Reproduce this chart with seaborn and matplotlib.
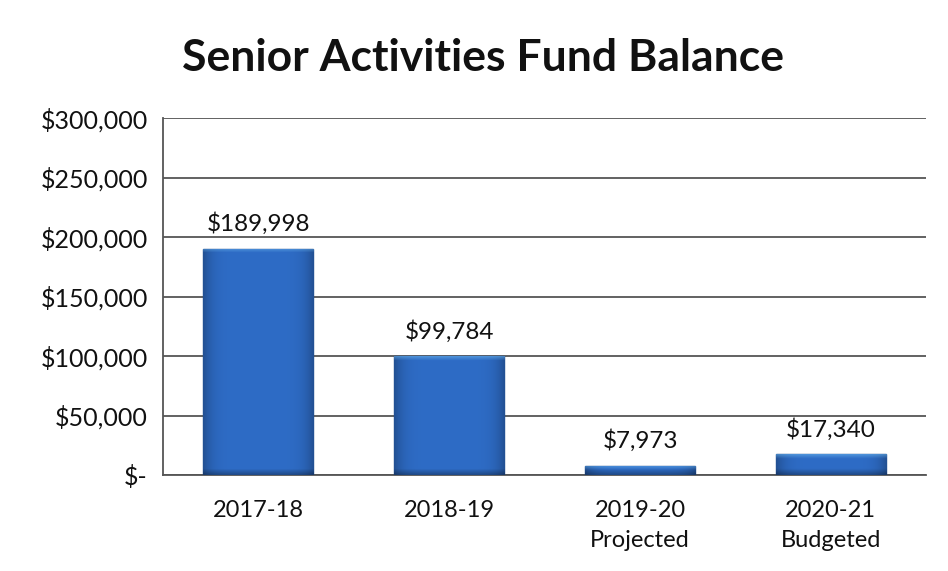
import matplotlib
matplotlib.use("Agg")
import matplotlib.pyplot as plt
import seaborn as sns
import pandas as pd
import numpy as np

categories = ["2017-18", "2018-19", "2019-20\nProjected", "2020-21\nBudgeted"]
balances = [189998, 99784, 7973, 17340]
value_labels = ["$189,998", "$99,784", "$7,973", "$17,340"]
y_ticks = [0, 50000, 100000, 150000, 200000, 250000, 300000]
y_tick_labels = ["$-", "$50,000", "$100,000", "$150,000", "$200,000", "$250,000", "$300,000"]

df = pd.DataFrame({"year": categories, "balance": balances})

sns.set_theme(style="white")
plt.rcParams["font.family"] = ["Lato", "DejaVu Sans"]

fig = plt.figure(figsize=(9.48, 5.71), dpi=100)
ax = fig.add_axes([0.172, 0.168, 0.805, 0.625])

sns.barplot(data=df, x="year", y="balance", color="#2e6cc6", width=0.577,
            edgecolor="#1b4a8c", linewidth=1.0, saturation=1, ax=ax, zorder=3)

ax.set_ylim(0, 300000)
ax.set_xlim(-0.5, 3.5)

# Bevelled shading inside each bar: lighter top rim, darker sides and base
base = np.array(matplotlib.colors.to_rgb("#2e6cc6"))
xs = np.linspace(0, 1, 60)
side = 1 - 0.25 * (np.abs(xs - 0.5) * 2) ** 6
for patch in ax.patches:
    x0, y0 = patch.get_x(), patch.get_y()
    w, h = patch.get_width(), patch.get_height()
    hpx = max(int(h / 300000 * 357), 4)
    ys = np.linspace(0, 1, hpx)
    img = np.ones((hpx, 60, 3)) * base
    img *= side[None, :, None]
    rim = np.clip(1 - ys * hpx / 4, 0, 1)[:, None, None]
    img = img * (1 - 0.45 * rim) + np.array([0.45, 0.75, 0.95]) * 0.45 * rim
    floor = np.clip((ys * hpx - (hpx - 6)) / 6, 0, 1)[:, None, None]
    img = img * (1 - 0.3 * floor)
    im = ax.imshow(np.clip(img, 0, 1), extent=(x0, x0 + w, y0, y0 + h), origin="upper",
                   aspect="auto", zorder=3.5, interpolation="bilinear")
    im.set_clip_path(patch)

ax.set_yticks(y_ticks)
ax.set_yticklabels(y_tick_labels)
ax.yaxis.grid(True, color="#555555", linewidth=1.3, zorder=0)
ax.set_axisbelow(True)
ax.set_xlabel("")
ax.set_ylabel("")
for s in ["top", "right"]:
    ax.spines[s].set_visible(False)
for s in ["left", "bottom"]:
    ax.spines[s].set_color("#555555")
    ax.spines[s].set_linewidth(1.3)
ax.tick_params(axis="both", colors="#111111", length=0)
ax.tick_params(axis="y", labelsize=18, pad=11)
ax.tick_params(axis="x", labelsize=17, pad=18)
for t in ax.get_xticklabels():
    t.set_linespacing(1.55)

for i, (v, lab) in enumerate(zip(balances, value_labels)):
    ax.annotate(lab, (i, v), xytext=(0, 10), textcoords="offset points",
                ha="center", va="bottom", fontsize=17.5, color="#111111")

fig.text(0.509, 0.898, "Senior Activities Fund Balance", ha="center", va="center",
         fontsize=32, fontweight="bold", color="#111111")

fig.savefig("out.png", dpi=100)
